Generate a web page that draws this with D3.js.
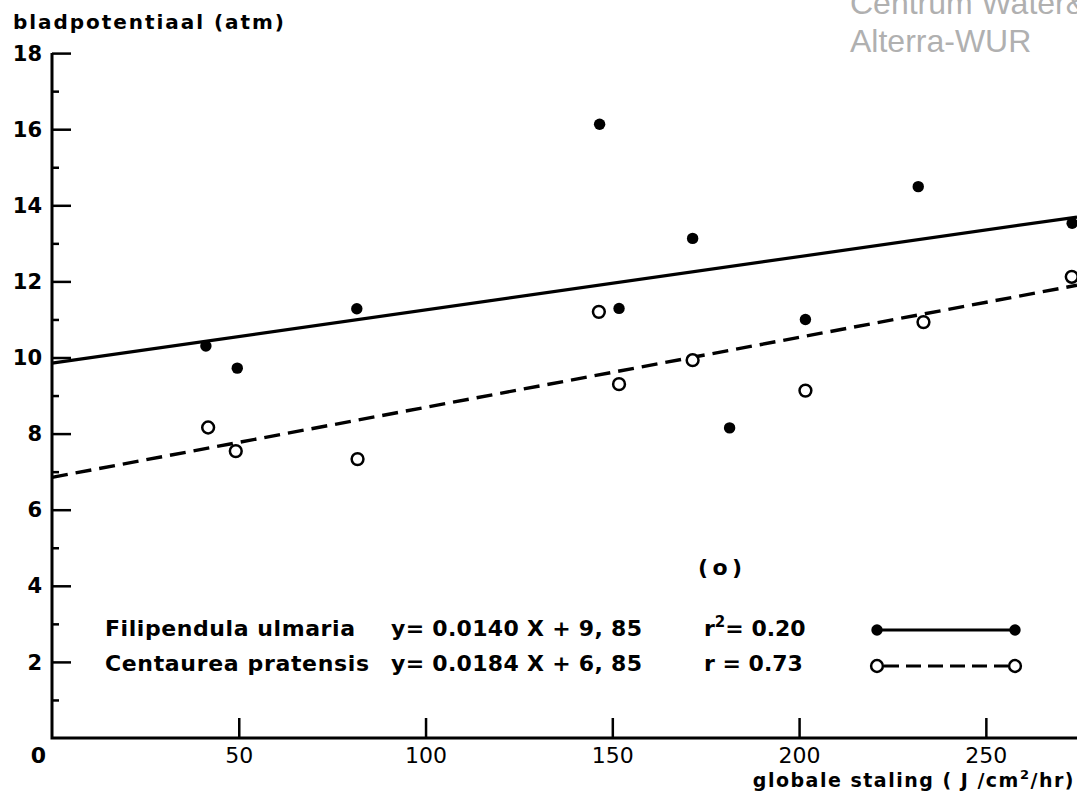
<!DOCTYPE html>
<html><head><meta charset="utf-8">
<script src="https://cdn.jsdelivr.net/npm/d3@7"></script>
<style>
html,body{margin:0;padding:0;background:#fff;}
svg{display:block;}
text{font-family:"DejaVu Sans",sans-serif;fill:#000;}
</style></head>
<body>
<svg id="c" width="1077" height="800"></svg>
<script>
// ---- data ----
const xTicks = [0, 50, 100, 150, 200, 250];
const yTicksMajor = [2, 4, 6, 8, 10, 12, 14, 16, 18];
const yTicksMinor = [1, 3, 5, 7, 9, 11, 13, 15, 17];
const filipX = [41.2, 49.6, 81.6, 146.6, 151.8, 171.5, 181.4, 201.7, 231.9, 273.1];
const filipY = [10.30, 9.72, 11.28, 16.13, 11.29, 13.13, 8.15, 11.00, 14.49, 13.53];
const centX = [41.8, 49.2, 81.8, 146.4, 151.8, 171.5, 201.7, 233.3, 273.0];
const centY = [8.16, 7.54, 7.33, 11.20, 9.30, 9.93, 9.13, 10.93, 12.12];
const filipFit = {slope: 0.0140, intercept: 9.85};
const centFit = {slope: 0.0184, intercept: 6.85};
const xDomainMax = 274.4;

const svg = d3.select("#c");
const x = d3.scaleLinear().domain([0, xDomainMax]).range([52, 1077]);
const y = d3.scaleLinear().domain([0, 18]).range([738, 53.1]);

// watermark
svg.append("text").attr("x", 850).attr("y", 14).style("font-family", "'Liberation Sans',Arial,sans-serif")
  .style("font-size", "32px").style("fill", "#b0b0b0").text("Centrum Water&");
svg.append("text").attr("x", 850).attr("y", 52).style("font-family", "'Liberation Sans',Arial,sans-serif")
  .style("font-size", "32px").style("fill", "#b0b0b0").text("Alterra-WUR");

// title
svg.append("text").attr("x", 13).attr("y", 29).attr("textLength", 271).attr("lengthAdjust", "spacing")
  .style("font-size", "20px").style("font-weight", "bold").text("bladpotentiaal (atm)");

// y axis
const yAxis = d3.axisLeft(y).tickValues(yTicksMajor).tickSize(-19).tickFormat(d3.format("d"));
const gy = svg.append("g").attr("transform", `translate(${x(0)},0)`).call(yAxis);
gy.select(".domain").remove();
gy.selectAll("line").attr("stroke", "#000").attr("stroke-width", 2.5);
gy.selectAll("text").style("font-size", "21px").style("font-weight", "bold")
  .attr("text-anchor", "end").attr("x", -10).attr("dy", "0.34em");
const yMinor = d3.axisLeft(y).tickValues(yTicksMinor).tickSize(-7).tickFormat("");
const gym = svg.append("g").attr("transform", `translate(${x(0)},0)`).call(yMinor);
gym.select(".domain").remove();
gym.selectAll("line").attr("stroke", "#000").attr("stroke-width", 2.5);

// x axis
const xAxis = d3.axisBottom(x).tickValues(xTicks).tickSize(-20).tickFormat(d3.format("d"));
const gx = svg.append("g").attr("transform", `translate(0,${y(0)})`).call(xAxis);
gx.select(".domain").remove();
gx.selectAll("line").attr("stroke", "#000").attr("stroke-width", 2.5).filter(d => d === 0).remove();
gx.selectAll("text").style("font-size", "22px").attr("y", 25).attr("dy", 0);
gx.selectAll(".tick").filter(d => d === 0).select("text").attr("dx", -14).style("font-weight", "bold");

// axis lines
svg.append("path").attr("d", `M${x(0)},${y(18)}L${x(0)},${y(0)}L${x(xDomainMax)},${y(0)}`)
  .attr("fill", "none").attr("stroke", "#000").attr("stroke-width", 3);

// x title
const xt = svg.append("text").attr("x", 1075).attr("y", 787).attr("text-anchor", "end")
  .style("font-size", "19px").style("font-weight", "bold").style("letter-spacing", "1.5px");
xt.append("tspan").text("globale staling ( J /cm");
xt.append("tspan").attr("dy", -8).style("font-size", "13px").text("2");
xt.append("tspan").attr("dy", 8).text("/hr)");

// regression lines
const line = d3.line().x(d => x(d[0])).y(d => y(d[1]));
const fitPts = f => [[0, f.intercept], [xDomainMax, f.intercept + f.slope * xDomainMax]];
svg.append("path").attr("d", line(fitPts(filipFit))).attr("fill", "none").attr("stroke", "#000").attr("stroke-width", 3.2);
svg.append("path").attr("d", line(fitPts(centFit))).attr("fill", "none").attr("stroke", "#000").attr("stroke-width", 3.4)
  .attr("stroke-dasharray", "16,8");

// points
svg.selectAll("circle.f").data(filipX.map((v, i) => [v, filipY[i]])).join("circle").attr("class", "f")
  .attr("cx", d => x(d[0])).attr("cy", d => y(d[1])).attr("r", 5.7).attr("fill", "#000");
svg.selectAll("circle.c").data(centX.map((v, i) => [v, centY[i]])).join("circle").attr("class", "c")
  .attr("cx", d => x(d[0])).attr("cy", d => y(d[1])).attr("r", 5.9).attr("fill", "#fff")
  .attr("stroke", "#000").attr("stroke-width", 2.5);

// legend
const lg = svg.append("g").style("font-size", "22px").style("font-weight", "bold");
lg.append("text").attr("x", 698).attr("y", 575).attr("textLength", 44).attr("lengthAdjust", "spacing").text("(o)");
lg.append("text").attr("x", 105).attr("y", 636).attr("textLength", 250).attr("lengthAdjust", "spacing").text("Filipendula ulmaria");
lg.append("text").attr("x", 105).attr("y", 671).attr("textLength", 264).attr("lengthAdjust", "spacing").text("Centaurea pratensis");
lg.append("text").attr("x", 391).attr("y", 636).attr("textLength", 251).attr("lengthAdjust", "spacing").text("y= 0.0140 X + 9, 85");
lg.append("text").attr("x", 391).attr("y", 671).attr("textLength", 251).attr("lengthAdjust", "spacing").text("y= 0.0184 X + 6, 85");
const r1 = lg.append("text").attr("x", 704).attr("y", 636);
r1.append("tspan").text("r");
r1.append("tspan").attr("dy", -9).style("font-size", "15px").text("2");
r1.append("tspan").attr("dy", 9).text("= 0.20");
lg.append("text").attr("x", 704).attr("y", 671).text("r  = 0.73");
// legend symbols
const lx = [877, 1015];
lg.append("line").attr("x1", lx[0]).attr("x2", lx[1]).attr("y1", 630).attr("y2", 630).attr("stroke", "#000").attr("stroke-width", 3);
lx.forEach(v => lg.append("circle").attr("cx", v).attr("cy", 630).attr("r", 5.7).attr("fill", "#000"));
lg.append("line").attr("x1", lx[0] + 7).attr("x2", lx[1] - 7).attr("y1", 666).attr("y2", 666).attr("stroke", "#000").attr("stroke-width", 3.2)
  .attr("stroke-dasharray", "15,7");
lx.forEach(v => lg.append("circle").attr("cx", v).attr("cy", 666).attr("r", 5.9).attr("fill", "#fff").attr("stroke", "#000").attr("stroke-width", 2.5));
</script>
</body></html>
